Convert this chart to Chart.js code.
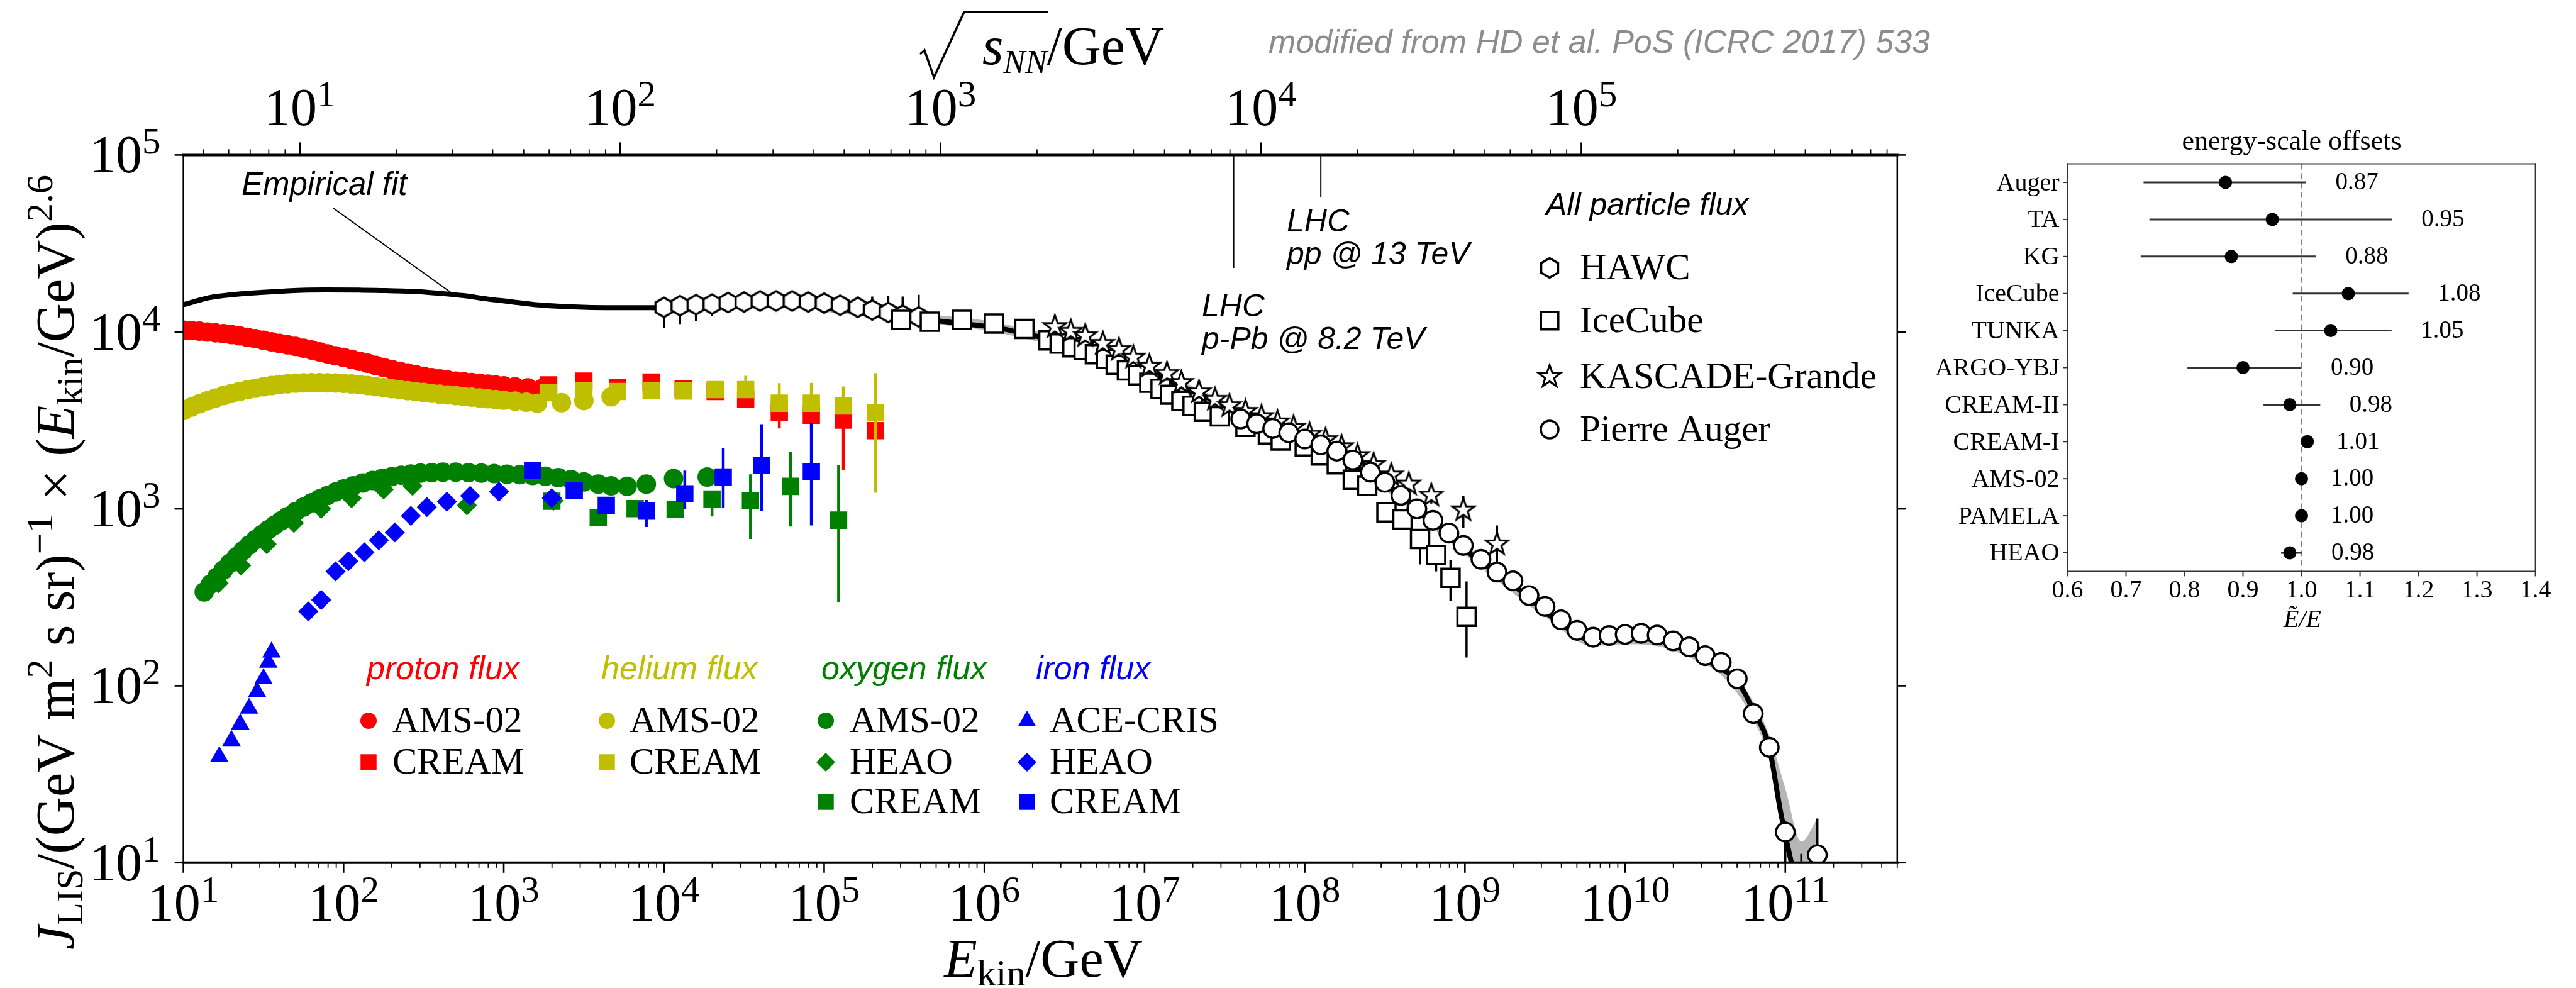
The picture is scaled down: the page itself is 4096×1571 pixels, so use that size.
<!DOCTYPE html>
<html>
<head>
<meta charset="utf-8">
<title>Cosmic-ray flux</title>
<script src="https://cdn.jsdelivr.net/npm/chart.js@4.4.1/dist/chart.umd.min.js"></script>
<style>
  html, body { margin: 0; padding: 0; background: #fff; }
  #stage { position: relative; width: 4096px; height: 1571px; overflow: hidden; }
  #stage canvas { position: absolute; left: 0; top: 0; }
</style>
</head>
<body>
<div id="stage">
  <canvas id="fluxChart" width="4096" height="1571"></canvas>
  <canvas id="offsetChart" width="4096" height="1571"></canvas>
</div>
<script>
const SERIF = '"Liberation Serif", "Times New Roman", serif';
const SANS = '"Liberation Sans", Arial, sans-serif';
const RED = '#ff0000', OLIVE = '#bfbf00', GREEN = '#008000', BLUE = '#0000ff';

const E_MIN = 10, E_MAX = 5e11, J_MIN = 10, J_MAX = 1e5;
const M_P = 0.938; // GeV, for the sqrt(s_NN) axis
const sqrtS = e => Math.sqrt(2 * M_P * e);

// all values below are log10(E_kin/GeV) and log10(J * E^2.6)
const protonAmsLogE = [1.00,1.05,1.10,1.15,1.20,1.25,1.30,1.35,1.40,1.45,1.50,1.55,1.60,1.65,1.70,1.75,1.80,1.85,1.90,1.95,2.00,2.05,2.10,2.15,2.20,2.25,2.30,2.35,2.40,2.45,2.50,2.55,2.60,2.65,2.70,2.75,2.80,2.85,2.90,2.95,3.00,3.07,3.15,3.24];
const protonAmsLogJ = [4.010,4.008,4.004,3.999,3.995,3.990,3.985,3.978,3.970,3.962,3.953,3.944,3.935,3.927,3.918,3.908,3.898,3.887,3.876,3.865,3.856,3.845,3.834,3.823,3.811,3.799,3.788,3.778,3.768,3.758,3.749,3.741,3.734,3.728,3.722,3.718,3.714,3.710,3.705,3.700,3.695,3.690,3.684,3.680];

const protonCreamLogE = [3.28,3.50,3.71,3.92,4.12,4.32,4.51,4.72,4.92,5.12,5.32];
const protonCreamLogJ = [3.700,3.722,3.687,3.716,3.680,3.663,3.618,3.547,3.529,3.502,3.442];
const protonCreamErrE = [4.51,4.72,4.92,5.12,5.32];
const protonCreamErrLo = [3.600,3.454,3.450,3.219,3.400];
const protonCreamErrHi = [3.640,3.600,3.600,3.550,3.500];

const heliumAmsLogE = [1.00,1.05,1.10,1.15,1.20,1.25,1.30,1.35,1.40,1.45,1.50,1.55,1.60,1.65,1.70,1.75,1.80,1.85,1.90,1.95,2.00,2.05,2.10,2.15,2.20,2.25,2.30,2.35,2.40,2.45,2.50,2.55,2.60,2.65,2.70,2.75,2.80,2.85,2.90,2.95,3.00,3.07,3.14,3.21,3.36,3.50,3.67];
const heliumAmsLogJ = [3.556,3.575,3.594,3.611,3.626,3.640,3.652,3.663,3.673,3.682,3.690,3.697,3.703,3.707,3.710,3.712,3.713,3.713,3.712,3.711,3.709,3.706,3.702,3.697,3.691,3.685,3.679,3.673,3.668,3.663,3.658,3.653,3.648,3.644,3.640,3.635,3.631,3.627,3.622,3.618,3.614,3.609,3.603,3.597,3.600,3.612,3.633];

const heliumCreamLogE = [3.28,3.50,3.71,3.92,4.12,4.32,4.51,4.72,4.92,5.12,5.32];
const heliumCreamLogJ = [3.656,3.669,3.663,3.669,3.666,3.674,3.674,3.597,3.597,3.582,3.543];
const heliumCreamErrE = [4.51,4.72,4.92,5.12,5.32];
const heliumCreamErrLo = [3.660,3.550,3.550,3.550,3.091];
const heliumCreamErrHi = [3.752,3.710,3.712,3.692,3.767];

const oxygenAmsLogE = [1.13,1.17,1.21,1.25,1.29,1.33,1.37,1.41,1.45,1.49,1.53,1.57,1.61,1.65,1.70,1.75,1.80,1.85,1.90,1.95,2.00,2.06,2.12,2.18,2.24,2.30,2.36,2.42,2.48,2.55,2.62,2.70,2.78,2.86,2.94,3.02,3.10,3.18,3.26,3.34,3.42,3.50,3.59,3.67,3.77,3.89,4.06,4.27];
const oxygenAmsLogJ = [2.530,2.575,2.615,2.655,2.692,2.728,2.762,2.795,2.826,2.855,2.882,2.908,2.933,2.956,2.984,3.010,3.034,3.056,3.076,3.095,3.112,3.130,3.146,3.160,3.172,3.182,3.190,3.197,3.202,3.205,3.207,3.207,3.205,3.202,3.199,3.196,3.193,3.189,3.184,3.176,3.166,3.152,3.140,3.130,3.127,3.140,3.171,3.180];

const oxygenHeaoLogE = [1.22,1.36,1.52,1.69,1.86,2.05,2.25,2.43,2.77,3.31];
const oxygenHeaoLogJ = [2.580,2.680,2.800,2.920,3.000,3.060,3.110,3.130,3.020,3.046];

const oxygenCreamLogE = [3.30,3.59,3.82,4.07,4.30,4.54,4.79,5.09];
const oxygenCreamLogJ = [3.043,2.950,3.001,2.996,3.055,3.046,3.127,2.936];
const oxygenCreamErrE = [3.59,3.82,4.07,4.30,4.54,4.79,5.09];
const oxygenCreamErrLo = [2.920,2.970,2.960,2.957,2.830,2.900,2.474];
const oxygenCreamErrHi = [2.980,3.030,3.030,3.097,3.195,3.323,3.246];

const ironAceLogE = [1.224,1.300,1.355,1.410,1.460,1.500,1.530,1.550];
const ironAceLogJ = [1.599,1.690,1.783,1.873,1.965,2.040,2.132,2.190];

const ironHeaoLogE = [1.78,1.86,1.95,2.03,2.13,2.22,2.32,2.42,2.52,2.645,2.79,2.97,3.30];
const ironHeaoLogJ = [2.420,2.485,2.647,2.704,2.754,2.823,2.867,2.960,3.010,3.040,3.073,3.097,3.061];

const ironCreamLogE = [3.18,3.44,3.64,3.89,4.13,4.37,4.61,4.92];
const ironCreamLogJ = [3.216,3.103,3.020,2.987,3.085,3.180,3.246,3.210];
const ironCreamErrE = [3.44,3.64,3.89,4.13,4.37,4.61,4.92];
const ironCreamErrLo = [3.080,2.980,2.897,3.000,3.007,2.987,2.906];
const ironCreamErrHi = [3.130,3.060,3.050,3.216,3.344,3.478,3.484];

const hawcLogE = [4.00,4.10,4.20,4.30,4.40,4.50,4.60,4.70,4.80,4.90,5.00,5.10,5.21,5.30,5.40,5.49,5.59];
const hawcLogJ = [4.139,4.148,4.154,4.157,4.166,4.169,4.175,4.175,4.175,4.169,4.163,4.151,4.139,4.124,4.110,4.095,4.085];
const hawcErrE = [4.00,4.10,4.20,4.30,4.40,4.50,5.21,5.30,5.40,5.49,5.59];
const hawcErrLo = [4.020,4.044,4.060,4.090,4.120,4.135,4.139,4.124,4.110,4.095,4.085];
const hawcErrHi = [4.139,4.148,4.154,4.157,4.166,4.169,4.200,4.200,4.205,4.200,4.210];

const icecubeLogE = [5.48,5.66,5.86,6.06,6.25,6.40,6.47,6.55,6.62,6.69,6.76,6.82,6.89,6.96,7.03,7.10,7.16,7.23,7.30,7.37,7.47,7.63,7.77,7.85,8.00,8.10,8.20,8.30,8.39,8.51,8.61,8.72,8.82,8.91,9.01];
const icecubeLogJ = [4.068,4.058,4.068,4.047,4.017,3.952,3.934,3.913,3.898,3.874,3.847,3.815,3.782,3.755,3.713,3.678,3.645,3.609,3.582,3.549,3.523,3.463,3.421,3.386,3.353,3.302,3.252,3.165,3.130,2.980,2.940,2.830,2.740,2.610,2.390];
const icecubeErrE = [8.51,8.72,8.82,8.91,9.01];
const icecubeErrLo = [2.940,2.686,2.647,2.480,2.160];
const icecubeErrHi = [3.000,2.860,2.770,2.710,2.590];

const kgLogE = [6.44,6.54,6.63,6.74,6.84,6.93,7.03,7.14,7.23,7.34,7.44,7.53,7.63,7.73,7.83,7.93,8.03,8.13,8.23,8.33,8.43,8.54,8.65,8.79,8.99,9.20];
const kgLogJ = [4.029,4.002,3.978,3.934,3.900,3.856,3.806,3.764,3.713,3.660,3.618,3.582,3.550,3.520,3.490,3.460,3.420,3.390,3.350,3.300,3.250,3.190,3.139,3.076,2.993,2.800];
const kgErrE = [8.79,8.99,9.20];
const kgErrLo = [3.030,2.890,2.695];
const kgErrHi = [3.100,3.073,2.906];

const augerLogE = [7.60,7.70,7.80,7.90,8.00,8.10,8.20,8.30,8.41,8.50,8.60,8.70,8.80,8.90,8.99,9.10,9.20,9.30,9.40,9.50,9.60,9.70,9.80,9.90,10.00,10.10,10.20,10.30,10.40,10.50,10.60,10.70,10.80,10.90,11.00,11.20];
const augerLogJ = [3.508,3.481,3.454,3.430,3.395,3.362,3.326,3.276,3.207,3.150,3.076,3.000,2.935,2.863,2.793,2.715,2.642,2.593,2.510,2.448,2.373,2.313,2.275,2.284,2.290,2.296,2.287,2.254,2.220,2.170,2.132,2.040,1.843,1.652,1.173,1.045];
const augerErrE = [11.00,11.10,11.20];
const augerErrLo = [0.900,0.900,0.900];
const augerErrHi = [1.235,1.050,1.250];

const fitLogE = [1.00,1.16,1.30,1.47,1.65,1.88,2.10,2.26,2.45,2.57,2.75,2.89,3.05,3.20,3.35,3.52,3.80,4.00,4.30,4.60,4.90,5.20,5.50,5.80,6.10,6.25,6.40,6.70,7.00,7.30,7.60,7.90,8.20,8.50,8.75,9.00,9.30,9.60,9.80,10.00,10.20,10.40,10.60,10.72,10.80,10.90,10.97,11.05];
const fitLogJ = [4.154,4.193,4.210,4.222,4.232,4.237,4.236,4.234,4.228,4.220,4.205,4.187,4.170,4.154,4.145,4.139,4.137,4.137,4.147,4.155,4.147,4.120,4.085,4.053,4.020,3.990,3.960,3.875,3.780,3.665,3.545,3.425,3.300,3.135,2.975,2.770,2.570,2.350,2.255,2.265,2.262,2.195,2.100,2.000,1.860,1.650,1.290,0.950];

const bandLogE = [5.0,5.5,6.0,6.5,7.0,7.5,8.0,8.5,9.0,9.5,9.8,10.0,10.2,10.4,10.6,10.8,10.9,11.0,11.1,11.2];
const bandHiLogJ = [4.165,4.110,4.065,3.960,3.810,3.610,3.410,3.165,2.800,2.450,2.290,2.300,2.300,2.230,2.140,1.910,1.720,1.420,1.120,1.250];
const bandLoLogJ = [4.115,4.060,4.010,3.905,3.750,3.550,3.360,3.105,2.740,2.390,2.225,2.235,2.225,2.160,2.060,1.810,1.580,1.080,0.800,0.800];

// LHC beam energies expressed as fixed-target energy (GeV)
const lhcEnergy = [3.6e7, 1.26e8];
const lhcText = [['LHC', 'p-Pb @ 8.2 TeV'], ['LHC', 'pp @ 13 TeV']];

// energy-scale offsets panel
const offsetLabels = ['Auger', 'TA', 'KG', 'IceCube', 'TUNKA', 'ARGO-YBJ', 'CREAM-II', 'CREAM-I', 'AMS-02', 'PAMELA', 'HEAO'];
const offsetValues = [0.87, 0.95, 0.88, 1.08, 1.05, 0.90, 0.98, 1.01, 1.00, 1.00, 0.98];
const offsetLow = [0.730, 0.740, 0.725, 0.985, 0.955, 0.805, 0.935, 1.01, 1.00, 1.00, 0.965];
const offsetHigh = [1.008, 1.155, 1.025, 1.183, 1.154, 1.000, 1.032, 1.01, 1.00, 1.00, 1.001];
const offsetTicks = [0.6, 0.7, 0.8, 0.9, 1.0, 1.1, 1.2, 1.3, 1.4];

const toPoints = (lx, ly) => lx.map((v, i) => ({ x: 10 ** v, y: 10 ** ly[i] }));

// ---------- drawing helpers ----------
function seg(ctx, x1, y1, x2, y2, w) {
  ctx.lineWidth = w;
  ctx.beginPath(); ctx.moveTo(x1, y1); ctx.lineTo(x2, y2); ctx.stroke();
}

function richText(ctx, runs, x, y, align) {
  let total = 0;
  const parts = runs.map(([t, font, dy]) => {
    ctx.font = font;
    const w = ctx.measureText(t).width;
    total += w;
    return { t, font, dy: dy || 0, w };
  });
  let cx = align === 'center' ? x - total / 2 : align === 'right' ? x - total : x;
  ctx.textAlign = 'left';
  parts.forEach(p => { ctx.font = p.font; ctx.fillText(p.t, cx, y + p.dy); cx += p.w; });
  return total;
}

// same geometry as the Chart.js point styles, plus hexagon and star
function tracePath(ctx, kind, x, y, r) {
  ctx.beginPath();
  if (kind === 'circle') {
    ctx.arc(x, y, r, 0, Math.PI * 2);
  } else if (kind === 'rect') {
    const h = r * Math.SQRT1_2;
    ctx.rect(x - h, y - h, 2 * h, 2 * h);
  } else if (kind === 'rectRot') {
    ctx.moveTo(x, y - r); ctx.lineTo(x + r, y); ctx.lineTo(x, y + r); ctx.lineTo(x - r, y);
  } else if (kind === 'triangle') {
    for (let k = 0; k < 3; k++) {
      const a = k * 2 * Math.PI / 3;
      ctx.lineTo(x + Math.sin(a) * r, y - Math.cos(a) * r);
    }
  } else if (kind === 'hexagon') {
    for (let k = 0; k < 6; k++) {
      const a = -Math.PI / 2 + k * Math.PI / 3;
      ctx.lineTo(x + Math.cos(a) * r, y + Math.sin(a) * r);
    }
  } else if (kind === 'star') {
    for (let k = 0; k < 10; k++) {
      const a = -Math.PI / 2 + k * Math.PI / 5;
      const rr = k % 2 ? r * 0.4 : r;
      ctx.lineTo(x + Math.cos(a) * rr, y + Math.sin(a) * rr);
    }
  }
  ctx.closePath();
}

function drawMarker(ctx, kind, x, y, r, fill, stroke, lw) {
  ctx.save();
  tracePath(ctx, kind, x, y, r);
  ctx.fillStyle = fill;
  ctx.fill();
  if (lw) { ctx.lineWidth = lw; ctx.strokeStyle = stroke; ctx.lineJoin = 'miter'; ctx.stroke(); }
  ctx.restore();
}

function openShape(kind, r, lw) {
  const size = Math.ceil(2 * r + 2 * lw + 4);
  const c = document.createElement('canvas');
  c.width = c.height = size;
  drawMarker(c.getContext('2d'), kind, size / 2, size / 2, r, '#fff', '#000', lw);
  return c;
}

const hexImage = openShape('hexagon', 15.5, 3.5);
const starImage = openShape('star', 18.5, 3);

function series(lx, ly, style, err) {
  return Object.assign({
    data: toPoints(lx, ly),
    showLine: false,
    clip: 0,
    pointBorderWidth: 0,
    err: err || null
  }, style);
}

// vertical error bars, drawn underneath each data set's markers
const errorBars = {
  id: 'errorBars',
  beforeDatasetDraw(chart, args) {
    const ds = chart.data.datasets[args.index];
    if (!ds.err) return;
    const { ctx, chartArea: a } = chart;
    const { x, y } = chart.scales;
    ctx.save();
    ctx.beginPath();
    ctx.rect(a.left, a.top, a.right - a.left, a.bottom - a.top);
    ctx.clip();
    ctx.strokeStyle = ds.err.color;
    ctx.lineCap = 'butt';
    ds.err.e.forEach((le, i) => {
      const px = x.getPixelForValue(10 ** le);
      seg(ctx, px, y.getPixelForValue(10 ** ds.err.lo[i]), px, y.getPixelForValue(10 ** ds.err.hi[i]), ds.err.width);
    });
    ctx.restore();
  }
};

const TICK_PX = 84, SUP_PX = 59;

const fluxAxes = {
  id: 'fluxAxes',
  afterDraw(chart) {
    const { ctx, chartArea: a } = chart;
    const { x, y, xTop } = chart.scales;
    const tickFont = `${TICK_PX}px ${SERIF}`, supFont = `${SUP_PX}px ${SERIF}`;
    ctx.save();
    ctx.strokeStyle = '#000';
    ctx.fillStyle = '#000';
    ctx.textBaseline = 'alphabetic';

    // kinetic energy, bottom
    for (let e = 1; e <= 11; e++) {
      for (let d = 1; d <= 9; d++) {
        const v = d * 10 ** e;
        if (v > E_MAX * 1.0001) break;
        const px = x.getPixelForValue(v);
        seg(ctx, px, a.bottom, px, a.bottom + (d === 1 ? 16 : 8), d === 1 ? 2.6 : 1.8);
      }
      richText(ctx, [['10', tickFont], [String(e), supFont, -30]], x.getPixelForValue(10 ** e), 1464, 'center');
    }

    // centre-of-mass energy per nucleon, top
    const sMin = sqrtS(E_MIN), sMax = sqrtS(E_MAX);
    for (let e = 0; e <= 5; e++) {
      for (let d = 1; d <= 9; d++) {
        const v = d * 10 ** e;
        if (v < sMin || v > sMax) continue;
        const px = xTop.getPixelForValue(v);
        seg(ctx, px, a.top, px, a.top - (d === 1 ? 20 : 9), d === 1 ? 2.6 : 1.8);
      }
      if (e >= 1) {
        richText(ctx, [['10', tickFont], [String(e), supFont, -30]], xTop.getPixelForValue(10 ** e), 199, 'center');
      }
    }

    // flux, left and right
    for (let e = 1; e <= 5; e++) {
      const py = y.getPixelForValue(10 ** e);
      seg(ctx, a.left - 14, py, a.left, py, 2.6);
      seg(ctx, a.right, py, a.right + 14, py, 2.6);
      richText(ctx, [['10', tickFont], [String(e), supFont, -30]], a.left - 36, py + 28, 'right');
    }

    // frame
    ctx.lineCap = 'square';
    seg(ctx, a.left, a.top, a.left, a.bottom, 2.5);
    seg(ctx, a.right, a.top, a.right, a.bottom, 2.5);
    seg(ctx, a.left, a.top, a.right, a.top, 4);
    seg(ctx, a.left, a.bottom, a.right, a.bottom, 4);
    ctx.lineCap = 'butt';

    // axis titles
    const big = `${86}px ${SERIF}`, bigI = `italic ${86}px ${SERIF}`, small = `${60}px ${SERIF}`;
    richText(ctx, [['E', bigI], ['kin', small, 14], ['/GeV', big]], 1659, 1553, 'center');

    ctx.save();
    ctx.translate(117, 894);
    ctx.rotate(-Math.PI / 2);
    richText(ctx, [
      ['J', bigI], ['LIS', small, 14], ['/(GeV m', big], ['2', small, -34], [' s sr)', big],
      ['\u22121', small, -34], [' \u00d7 (', big], ['E', bigI], ['kin', small, 14], ['/GeV)', big], ['2.6', small, -34]
    ], 0, 0, 'center');
    ctx.restore();

    // sqrt(s_NN)/GeV above the top axis
    const sx = 1562, base = 102;
    ctx.font = bigI; const wS = ctx.measureText('s').width;
    ctx.font = `italic 52px ${SERIF}`; const wNN = ctx.measureText('NN').width;
    richText(ctx, [['s', bigI], ['NN', `italic 52px ${SERIF}`, 14], ['/GeV', big]], sx, base, 'left');
    ctx.lineJoin = 'miter';
    ctx.lineWidth = 3.5;
    ctx.beginPath();
    ctx.moveTo(1463, 86); ctx.lineTo(1470, 80); ctx.lineTo(1485, 123); ctx.lineTo(1533, 19);
    ctx.lineTo(sx + wS + wNN + 2, 19);
    ctx.stroke();
    ctx.restore();
  }
};

const fluxNotes = {
  id: 'fluxNotes',
  afterDraw(chart) {
    const { ctx, chartArea: a } = chart;
    const { x } = chart.scales;
    ctx.save();
    ctx.fillStyle = '#000';
    ctx.strokeStyle = '#000';
    ctx.textAlign = 'left';
    ctx.textBaseline = 'middle';

    ctx.font = `italic 52px ${SANS}`;
    ctx.fillStyle = '#8c8c8c';
    ctx.fillText('modified from HD et al. PoS (ICRC 2017) 533', 2017, 70);
    ctx.fillStyle = '#000';

    // fit label and pointer
    ctx.font = `italic 51px ${SANS}`;
    ctx.fillText('Empirical fit', 384, 296);
    seg(ctx, 530, 331, 721, 468, 2);

    // LHC energies
    const lineEnd = [426, 313];
    const textPos = [[1911, 489], [2046, 354]];
    lhcEnergy.forEach((e, i) => {
      const px = x.getPixelForValue(e);
      seg(ctx, px, a.top, px, lineEnd[i], 2);
      ctx.font = `italic 50px ${SANS}`;
      ctx.fillText(lhcText[i][0], textPos[i][0], textPos[i][1]);
      ctx.fillText(lhcText[i][1], textPos[i][0], textPos[i][1] + 52);
    });

    // all-particle legend
    ctx.font = `italic 50px ${SANS}`;
    ctx.fillText('All particle flux', 2458, 328);
    const allRows = [
      ['hexagon', 'HAWC', 15.5, 3.5], ['rect', 'IceCube', 19.5, 3.5],
      ['star', 'KASCADE-Grande', 18.5, 3], ['circle', 'Pierre Auger', 14, 3.5]
    ];
    const allY = [426, 510, 599, 683];
    allRows.forEach(([kind, name, r, lw], i) => {
      drawMarker(ctx, kind, 2464, allY[i], r, '#fff', '#000', lw);
      ctx.font = `59px ${SERIF}`;
      ctx.fillStyle = '#000';
      ctx.fillText(name, 2512, allY[i] + 2);
    });

    // element legends
    const groups = [
      { title: 'proton flux', color: RED, tx: 583, mx: 586, lx: 624, rows: [['circle', 'AMS-02'], ['rect', 'CREAM']] },
      { title: 'helium flux', color: OLIVE, tx: 956, mx: 965, lx: 1001, rows: [['circle', 'AMS-02'], ['rect', 'CREAM']] },
      { title: 'oxygen flux', color: GREEN, tx: 1306, mx: 1313, lx: 1351, rows: [['circle', 'AMS-02'], ['rectRot', 'HEAO'], ['rect', 'CREAM']] },
      { title: 'iron flux', color: BLUE, tx: 1647, mx: 1633, lx: 1669, rows: [['triangle', 'ACE-CRIS'], ['rectRot', 'HEAO'], ['rect', 'CREAM']] }
    ];
    const rowY = [1146, 1212, 1275];
    const legendR = { circle: 13, rect: 18, rectRot: 15, triangle: 16 };
    groups.forEach(g => {
      ctx.font = `italic 52px ${SANS}`;
      ctx.fillStyle = g.color;
      ctx.fillText(g.title, g.tx, 1066);
      g.rows.forEach(([kind, name], i) => {
        drawMarker(ctx, kind, g.mx, rowY[i], legendR[kind], g.color);
        ctx.font = `59px ${SERIF}`;
        ctx.fillStyle = '#000';
        ctx.fillText(name, g.lx, rowY[i] + 2);
      });
    });
    ctx.restore();
  }
};

new Chart(document.getElementById('fluxChart'), {
  type: 'scatter',
  data: {
    datasets: [
      {
        data: toPoints(bandLogE, bandHiLogJ), showLine: true, borderWidth: 0, borderColor: 'transparent',
        pointRadius: 0, fill: '+1', backgroundColor: 'rgba(110,110,110,0.5)', cubicInterpolationMode: 'monotone', clip: 0, order: 101
      },
      {
        data: toPoints(bandLogE, bandLoLogJ), showLine: true, borderWidth: 0, borderColor: 'transparent',
        pointRadius: 0, fill: false, cubicInterpolationMode: 'monotone', clip: 0, order: 102
      },
      {
        data: toPoints(fitLogE, fitLogJ), showLine: true, borderColor: '#000', borderWidth: 8,
        pointRadius: 0, fill: false, cubicInterpolationMode: 'monotone', clip: 0, order: 100
      },
      series(protonAmsLogE, protonAmsLogJ, { pointStyle: 'circle', pointRadius: 15.5, pointBackgroundColor: RED, order: 90 }),
      series(protonCreamLogE, protonCreamLogJ, { pointStyle: 'rect', pointRadius: 19.5, pointBackgroundColor: RED, order: 89 },
        { e: protonCreamErrE, lo: protonCreamErrLo, hi: protonCreamErrHi, color: RED, width: 4.5 }),
      series(heliumAmsLogE, heliumAmsLogJ, { pointStyle: 'circle', pointRadius: 15.5, pointBackgroundColor: OLIVE, order: 88 }),
      series(heliumCreamLogE, heliumCreamLogJ, { pointStyle: 'rect', pointRadius: 19.5, pointBackgroundColor: OLIVE, order: 87 },
        { e: heliumCreamErrE, lo: heliumCreamErrLo, hi: heliumCreamErrHi, color: OLIVE, width: 4.5 }),
      series(oxygenAmsLogE, oxygenAmsLogJ, { pointStyle: 'circle', pointRadius: 15.5, pointBackgroundColor: GREEN, order: 86 }),
      series(oxygenHeaoLogE, oxygenHeaoLogJ, { pointStyle: 'rectRot', pointRadius: 16, pointBackgroundColor: GREEN, order: 85 }),
      series(oxygenCreamLogE, oxygenCreamLogJ, { pointStyle: 'rect', pointRadius: 19.5, pointBackgroundColor: GREEN, order: 84 },
        { e: oxygenCreamErrE, lo: oxygenCreamErrLo, hi: oxygenCreamErrHi, color: GREEN, width: 4.5 }),
      series(ironAceLogE, ironAceLogJ, { pointStyle: 'triangle', pointRadius: 17, pointBackgroundColor: BLUE, order: 83 }),
      series(ironHeaoLogE, ironHeaoLogJ, { pointStyle: 'rectRot', pointRadius: 16, pointBackgroundColor: BLUE, order: 82 }),
      series(ironCreamLogE, ironCreamLogJ, { pointStyle: 'rect', pointRadius: 19.5, pointBackgroundColor: BLUE, order: 81 },
        { e: ironCreamErrE, lo: ironCreamErrLo, hi: ironCreamErrHi, color: BLUE, width: 4.5 }),
      series(hawcLogE, hawcLogJ, { pointStyle: hexImage, pointRadius: 15.5, order: 50 },
        { e: hawcErrE, lo: hawcErrLo, hi: hawcErrHi, color: '#000', width: 3.5 }),
      series(icecubeLogE, icecubeLogJ, { pointStyle: 'rect', pointRadius: 20.5, pointBackgroundColor: '#fff', pointBorderColor: '#000', pointBorderWidth: 3.5, order: 49 },
        { e: icecubeErrE, lo: icecubeErrLo, hi: icecubeErrHi, color: '#000', width: 3.5 }),
      series(kgLogE, kgLogJ, { pointStyle: starImage, pointRadius: 18.5, order: 48 },
        { e: kgErrE, lo: kgErrLo, hi: kgErrHi, color: '#000', width: 3.5 }),
      series(augerLogE, augerLogJ, { pointStyle: 'circle', pointRadius: 14.8, pointBackgroundColor: '#fff', pointBorderColor: '#000', pointBorderWidth: 3.5, order: 47 },
        { e: augerErrE, lo: augerErrLo, hi: augerErrHi, color: '#000', width: 3.5 })
    ]
  },
  options: {
    responsive: false,
    animation: false,
    events: [],
    layout: { padding: { left: 291.6, right: 1079.2, top: 246.4, bottom: 199.2 } },
    scales: {
      x: { type: 'logarithmic', min: E_MIN, max: E_MAX, display: false },
      y: { type: 'logarithmic', min: J_MIN, max: J_MAX, display: false },
      xTop: { type: 'logarithmic', axis: 'x', position: 'top', min: sqrtS(E_MIN), max: sqrtS(E_MAX), display: false }
    },
    plugins: { legend: { display: false }, tooltip: { enabled: false } }
  },
  plugins: [errorBars, fluxAxes, fluxNotes]
});

// ---------- energy-scale offsets ----------
const offsetDecor = {
  id: 'offsetDecor',
  beforeDatasetsDraw(chart) {
    const { ctx, chartArea: a } = chart;
    const { x, y } = chart.scales;
    ctx.save();
    const x1 = x.getPixelForValue(1);
    ctx.setLineDash([9, 6]);
    ctx.strokeStyle = '#808080';
    seg(ctx, x1, a.top, x1, a.bottom, 2);
    ctx.setLineDash([]);
    ctx.strokeStyle = '#333';
    offsetLabels.forEach((lab, i) => {
      if (offsetHigh[i] - offsetLow[i] <= 0) return;
      const py = y.getPixelForValue(i);
      seg(ctx, x.getPixelForValue(offsetLow[i]), py, x.getPixelForValue(offsetHigh[i]), py, 3);
    });
    ctx.restore();
  },
  afterDraw(chart) {
    const { ctx, chartArea: a } = chart;
    const { x, y } = chart.scales;
    ctx.save();
    ctx.strokeStyle = '#333';
    ctx.fillStyle = '#000';
    ctx.lineCap = 'square';
    seg(ctx, a.left, a.top, a.right, a.top, 2);
    seg(ctx, a.left, a.bottom, a.right, a.bottom, 2);
    seg(ctx, a.left, a.top, a.left, a.bottom, 2);
    seg(ctx, a.right, a.top, a.right, a.bottom, 2);
    ctx.lineCap = 'butt';

    ctx.textBaseline = 'middle';
    ctx.font = `40px ${SERIF}`;
    ctx.textAlign = 'right';
    offsetLabels.forEach((lab, i) => {
      const py = y.getPixelForValue(i);
      seg(ctx, a.left - 7, py, a.left, py, 2);
      ctx.fillText(lab, a.left - 13, py + 2);
    });

    ctx.textAlign = 'center';
    offsetTicks.forEach(t => {
      const px = x.getPixelForValue(t);
      seg(ctx, px, a.bottom, px, a.bottom + 8, 2);
      ctx.fillText(t.toFixed(1), px, 939);
    });

    ctx.font = `39px ${SERIF}`;
    ctx.textAlign = 'left';
    offsetValues.forEach((v, i) => {
      const px = x.getPixelForValue(Math.max(offsetHigh[i], v) + 0.05);
      ctx.fillText(v.toFixed(2), px, y.getPixelForValue(i) + 1);
    });

    ctx.textBaseline = 'alphabetic';
    ctx.textAlign = 'center';
    ctx.font = `44px ${SERIF}`;
    ctx.fillText('energy-scale offsets', 3644, 238);
    ctx.font = `italic 40px ${SERIF}`;
    ctx.fillText('\u1EBC/E', 3661, 997);
    ctx.restore();
  }
};

new Chart(document.getElementById('offsetChart'), {
  type: 'scatter',
  data: {
    datasets: [{
      data: offsetValues.map((v, i) => ({ x: v, y: offsetLabels[i] })),
      pointRadius: 10.5,
      pointBackgroundColor: '#000',
      pointBorderWidth: 0,
      clip: false
    }]
  },
  options: {
    responsive: false,
    animation: false,
    events: [],
    layout: { padding: { left: 3287.5, right: 64.4, top: 260.6, bottom: 662.6 } },
    scales: {
      x: { type: 'linear', min: 0.6, max: 1.4, display: false },
      y: { type: 'category', labels: offsetLabels, offset: true, display: false }
    },
    plugins: { legend: { display: false }, tooltip: { enabled: false } }
  },
  plugins: [offsetDecor]
});
</script>
</body>
</html>
